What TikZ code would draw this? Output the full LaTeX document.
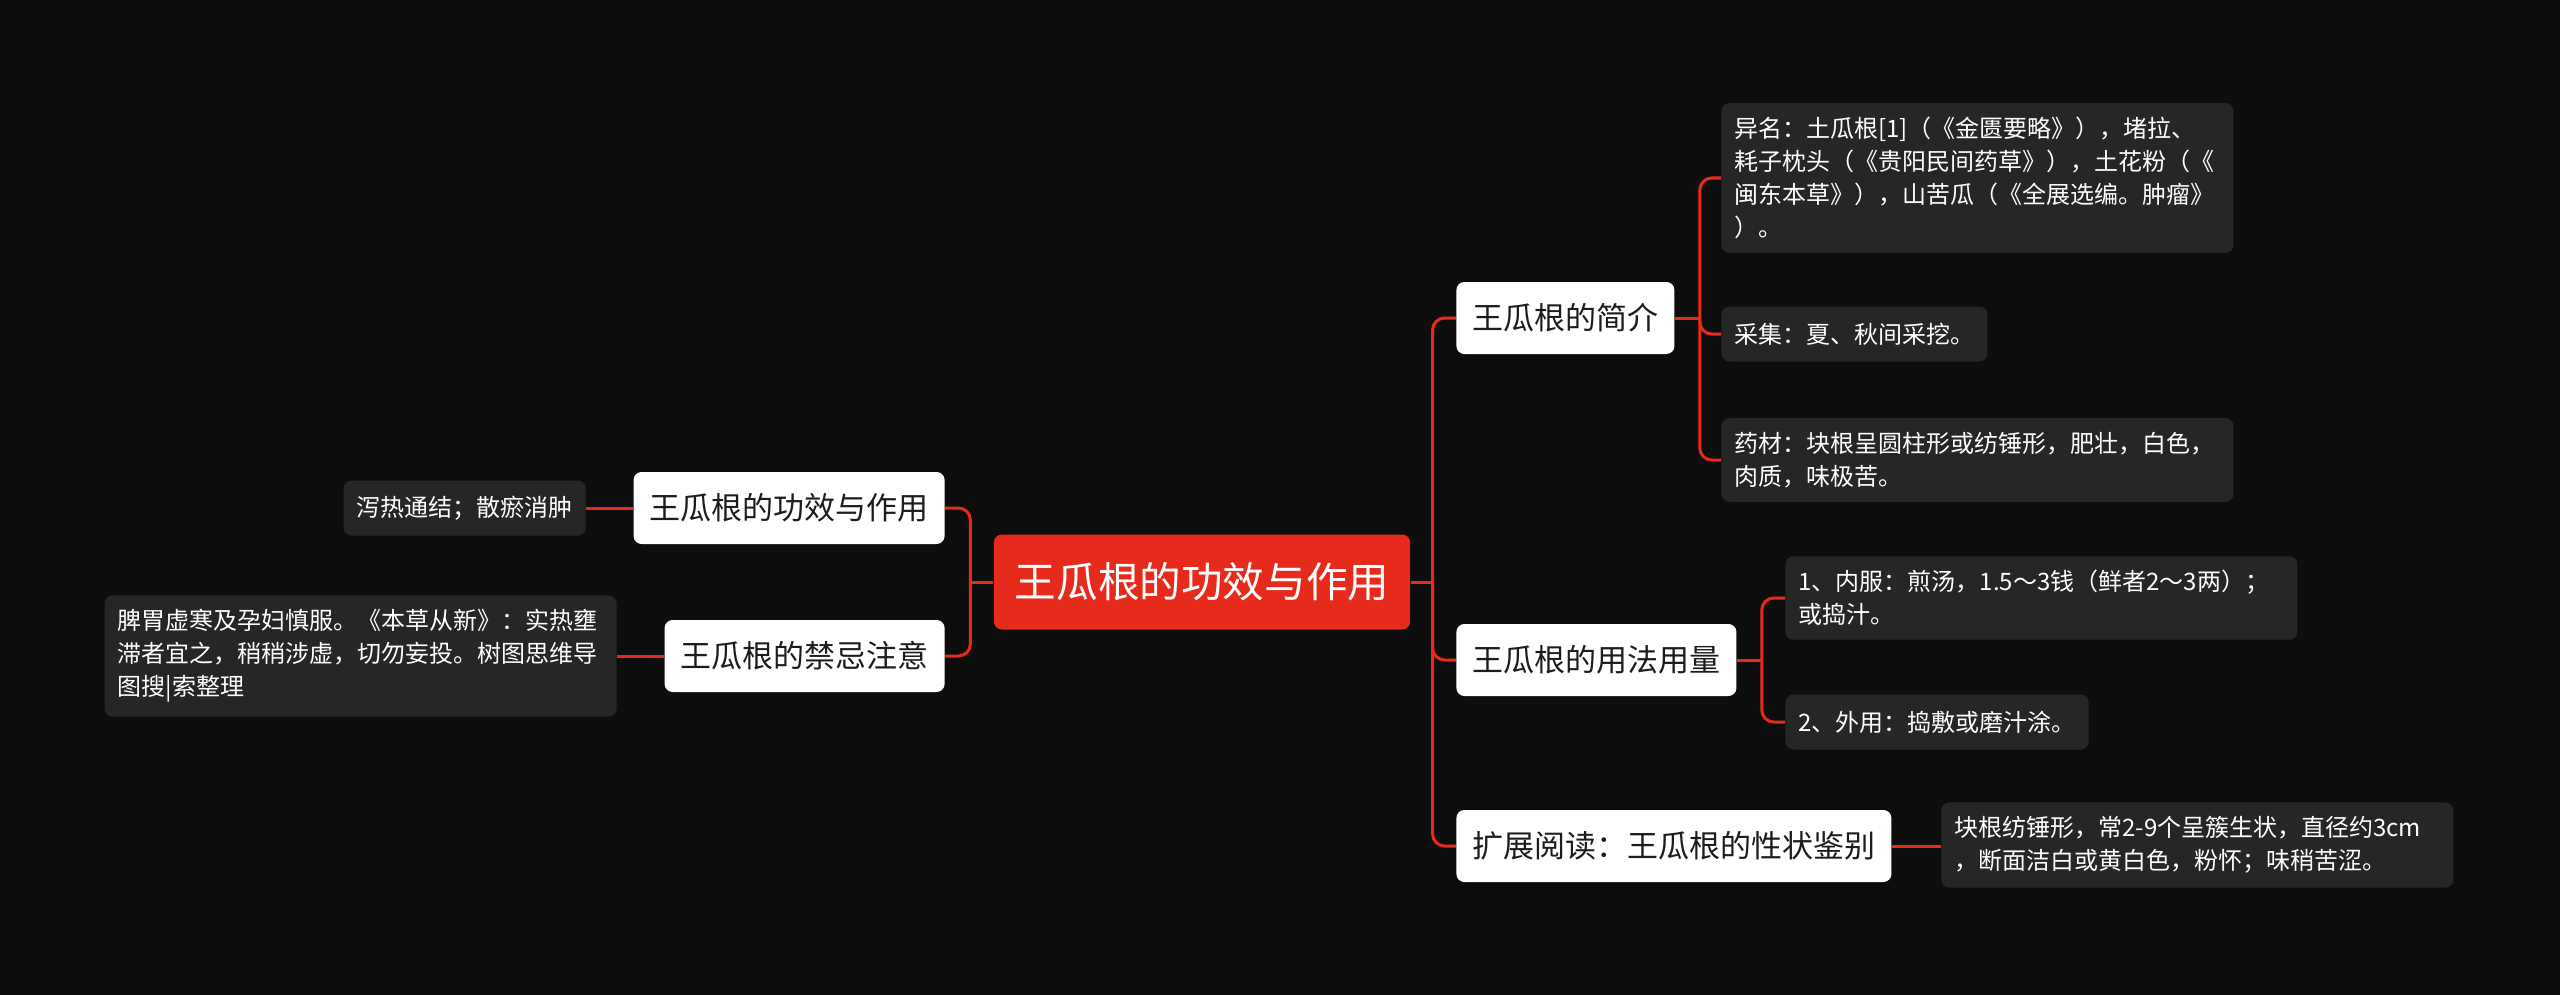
\documentclass[tikz,border=0pt]{standalone}
\usepackage{fontspec}
\setmainfont{Noto Sans CJK SC}
\usepackage{tikz}
\usetikzlibrary{positioning,calc}
\definecolor{bg}{HTML}{0D0D0D}
\definecolor{mapred}{HTML}{E62A1B}
\definecolor{notegray}{HTML}{262626}
\definecolor{ink}{HTML}{1C1C1C}

\begin{document}
\begin{tikzpicture}[
    x=0.5pt, y=-0.5pt,
    root/.style={fill=mapred, text=white, rounded corners=4pt, inner xsep=10.5pt, minimum height=47.5pt, font=\fontsize{20.8pt}{24pt}\selectfont},
    topic/.style={fill=white, text=ink, rounded corners=4pt, inner xsep=8pt, minimum height=36pt, font=\fontsize{15.5pt}{18pt}\selectfont},
    note/.style={fill=notegray, text=white, rounded corners=4pt, inner xsep=6.5pt, inner ysep=7pt, minimum height=27.5pt, align=left, font=\fontsize{12pt}{16.5pt}\selectfont},
    wide/.style={note, text width=243pt},
    link/.style={draw=mapred, line width=1.5pt, rounded corners=6pt},
  ]
  \fill[bg] (0,0) rectangle (2560,995);
  \useasboundingbox (0,0) rectangle (2560,995);

  \node[root] (c) at (1202,582) {王瓜根的功效与作用};
  \node[topic, anchor=west] (s1) at (1456,318) {王瓜根的简介};
  \node[topic, anchor=west] (s2) at (1456,660) {王瓜根的用法用量};
  \node[topic, anchor=west] (s3) at (1456,846) {扩展阅读：王瓜根的性状鉴别};
  \node[topic, anchor=east] (l1) at (945,508) {王瓜根的功效与作用};
  \node[topic, anchor=east] (l2) at (945,656) {王瓜根的禁忌注意};

  \node[wide, anchor=west] (d11) at (1721,178) {异名：土瓜根[1]（《金匮要略》），堵拉、\\耗子枕头（《贵阳民间药草》），土花粉（《\\闽东本草》），山苦瓜（《全展选编。肿瘤》\\）。};
  \node[note, anchor=west] (d12) at (1721,334) {采集：夏、秋间采挖。};
  \node[wide, anchor=west] (d13) at (1721,460) {药材：块根呈圆柱形或纺锤形，肥壮，白色，\\肉质，味极苦。};
  \node[wide, anchor=west] (d21) at (1785,598) {1、内服：煎汤，1.5～3钱（鲜者2～3两）；\\或捣汁。};
  \node[note, anchor=west] (d22) at (1785,722) {2、外用：捣敷或磨汁涂。};
  \node[wide, anchor=west] (d31) at (1941,845) {块根纺锤形，常2-9个呈簇生状，直径约3cm\\，断面洁白或黄白色，粉怀；味稍苦涩。};
  \node[note, anchor=east] (e11) at (586,508) {泻热通结；散瘀消肿};
  \node[wide, anchor=east] (e21) at (617,656) {脾胃虚寒及孕妇慎服。《本草从新》：实热壅\\滞者宜之，稍稍涉虚，切勿妄投。树图思维导\\图搜|索整理};

  \coordinate (rb) at ([xshift=11pt]c.east);
  \coordinate (lb) at ([xshift=-11.5pt]c.west);
  \coordinate (b1) at ([xshift=12.5pt]s1.east);
  \coordinate (b2) at ([xshift=12.5pt]s2.east);

  \draw[link] (c.east) -- (rb);
  \draw[link] (rb) |- (s1.west);
  \draw[link] (rb) |- (s2.west);
  \draw[link] (rb) |- (s3.west);
  \draw[link] (c.west) -- (lb);
  \draw[link] (lb) |- (l1.east);
  \draw[link] (lb) |- (l2.east);

  \draw[link] (s1.east) -- (b1);
  \draw[link] (b1) |- (d11.west);
  \draw[link] (b1) |- (d12.west);
  \draw[link] (b1) |- (d13.west);
  \draw[link] (s2.east) -- (b2);
  \draw[link] (b2) |- (d21.west);
  \draw[link] (b2) |- (d22.west);
  \draw[link] (s3.east) -- (s3.east -| d31.west);
  \draw[link] (l1.west) -- (e11.east);
  \draw[link] (l2.west) -- (e21.east);
\end{tikzpicture}
\end{document}
